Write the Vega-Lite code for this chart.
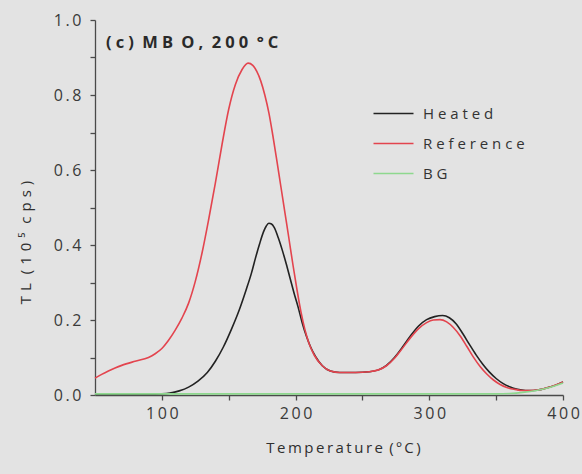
{
  "$schema": "https://vega.github.io/schema/vega-lite/v6.json",
  "width": 468,
  "height": 375,
  "autosize": {"type": "none"},
  "padding": {"left": 95, "top": 20, "right": 19, "bottom": 79},
  "background": "#e3e3e3",
  "config": {
    "view": {"stroke": null},
    "font": "Open Sans"
  },
  "title": {
    "text": "(\u2005c\u2005)\u2005 M\u2005B\u2005\u2005O\u2005,\u2005 2\u20050\u20050\u2005 °\u2005C",
    "anchor": "start",
    "frame": "group",
    "orient": "top",
    "fontSize": 16.5,
    "fontWeight": "bold",
    "color": "#2a2a2a",
    "offset": 0,
    "baseline": "alphabetic",
    "dx": 11,
    "dy": 52
  },
  "data": {
    "values": [
      {"T": 50, "v": 0.002, "s": "Heated"},
      {"T": 60, "v": 0.002, "s": "Heated"},
      {"T": 70, "v": 0.002, "s": "Heated"},
      {"T": 80, "v": 0.002, "s": "Heated"},
      {"T": 90, "v": 0.002, "s": "Heated"},
      {"T": 100, "v": 0.003, "s": "Heated"},
      {"T": 106, "v": 0.005, "s": "Heated"},
      {"T": 113, "v": 0.011, "s": "Heated"},
      {"T": 120, "v": 0.021, "s": "Heated"},
      {"T": 127, "v": 0.037, "s": "Heated"},
      {"T": 134, "v": 0.06, "s": "Heated"},
      {"T": 140, "v": 0.09, "s": "Heated"},
      {"T": 146, "v": 0.128, "s": "Heated"},
      {"T": 152, "v": 0.175, "s": "Heated"},
      {"T": 158, "v": 0.228, "s": "Heated"},
      {"T": 163, "v": 0.28, "s": "Heated"},
      {"T": 167, "v": 0.325, "s": "Heated"},
      {"T": 170, "v": 0.365, "s": "Heated"},
      {"T": 173, "v": 0.402, "s": "Heated"},
      {"T": 176, "v": 0.435, "s": "Heated"},
      {"T": 178, "v": 0.45, "s": "Heated"},
      {"T": 180, "v": 0.458, "s": "Heated"},
      {"T": 182, "v": 0.456, "s": "Heated"},
      {"T": 184, "v": 0.447, "s": "Heated"},
      {"T": 187, "v": 0.42, "s": "Heated"},
      {"T": 190, "v": 0.387, "s": "Heated"},
      {"T": 193, "v": 0.35, "s": "Heated"},
      {"T": 196, "v": 0.31, "s": "Heated"},
      {"T": 199, "v": 0.27, "s": "Heated"},
      {"T": 202, "v": 0.233, "s": "Heated"},
      {"T": 205, "v": 0.192, "s": "Heated"},
      {"T": 208, "v": 0.158, "s": "Heated"},
      {"T": 211, "v": 0.13, "s": "Heated"},
      {"T": 215, "v": 0.102, "s": "Heated"},
      {"T": 220, "v": 0.078, "s": "Heated"},
      {"T": 226, "v": 0.064, "s": "Heated"},
      {"T": 233, "v": 0.06, "s": "Heated"},
      {"T": 245, "v": 0.06, "s": "Heated"},
      {"T": 255, "v": 0.062, "s": "Heated"},
      {"T": 262, "v": 0.067, "s": "Heated"},
      {"T": 268, "v": 0.079, "s": "Heated"},
      {"T": 274, "v": 0.1, "s": "Heated"},
      {"T": 280, "v": 0.128, "s": "Heated"},
      {"T": 286, "v": 0.158, "s": "Heated"},
      {"T": 292, "v": 0.184, "s": "Heated"},
      {"T": 298, "v": 0.201, "s": "Heated"},
      {"T": 304, "v": 0.209, "s": "Heated"},
      {"T": 310, "v": 0.212, "s": "Heated"},
      {"T": 315, "v": 0.206, "s": "Heated"},
      {"T": 320, "v": 0.19, "s": "Heated"},
      {"T": 325, "v": 0.164, "s": "Heated"},
      {"T": 330, "v": 0.135, "s": "Heated"},
      {"T": 335, "v": 0.107, "s": "Heated"},
      {"T": 340, "v": 0.082, "s": "Heated"},
      {"T": 345, "v": 0.061, "s": "Heated"},
      {"T": 350, "v": 0.044, "s": "Heated"},
      {"T": 355, "v": 0.031, "s": "Heated"},
      {"T": 360, "v": 0.022, "s": "Heated"},
      {"T": 366, "v": 0.015, "s": "Heated"},
      {"T": 372, "v": 0.012, "s": "Heated"},
      {"T": 378, "v": 0.012, "s": "Heated"},
      {"T": 384, "v": 0.015, "s": "Heated"},
      {"T": 390, "v": 0.021, "s": "Heated"},
      {"T": 395, "v": 0.027, "s": "Heated"},
      {"T": 400, "v": 0.035, "s": "Heated"},

      {"T": 50, "v": 0.045, "s": "Reference"},
      {"T": 55, "v": 0.055, "s": "Reference"},
      {"T": 60, "v": 0.064, "s": "Reference"},
      {"T": 65, "v": 0.072, "s": "Reference"},
      {"T": 70, "v": 0.079, "s": "Reference"},
      {"T": 80, "v": 0.09, "s": "Reference"},
      {"T": 90, "v": 0.1, "s": "Reference"},
      {"T": 95, "v": 0.11, "s": "Reference"},
      {"T": 100, "v": 0.124, "s": "Reference"},
      {"T": 105, "v": 0.146, "s": "Reference"},
      {"T": 110, "v": 0.173, "s": "Reference"},
      {"T": 115, "v": 0.205, "s": "Reference"},
      {"T": 120, "v": 0.245, "s": "Reference"},
      {"T": 125, "v": 0.303, "s": "Reference"},
      {"T": 130, "v": 0.378, "s": "Reference"},
      {"T": 135, "v": 0.468, "s": "Reference"},
      {"T": 140, "v": 0.565, "s": "Reference"},
      {"T": 145, "v": 0.668, "s": "Reference"},
      {"T": 150, "v": 0.762, "s": "Reference"},
      {"T": 155, "v": 0.828, "s": "Reference"},
      {"T": 160, "v": 0.868, "s": "Reference"},
      {"T": 164.5, "v": 0.885, "s": "Reference"},
      {"T": 168, "v": 0.879, "s": "Reference"},
      {"T": 171, "v": 0.863, "s": "Reference"},
      {"T": 174, "v": 0.837, "s": "Reference"},
      {"T": 177, "v": 0.8, "s": "Reference"},
      {"T": 180, "v": 0.753, "s": "Reference"},
      {"T": 183, "v": 0.692, "s": "Reference"},
      {"T": 186, "v": 0.625, "s": "Reference"},
      {"T": 189, "v": 0.556, "s": "Reference"},
      {"T": 192, "v": 0.487, "s": "Reference"},
      {"T": 195, "v": 0.418, "s": "Reference"},
      {"T": 198, "v": 0.348, "s": "Reference"},
      {"T": 201, "v": 0.282, "s": "Reference"},
      {"T": 204, "v": 0.222, "s": "Reference"},
      {"T": 207, "v": 0.174, "s": "Reference"},
      {"T": 210, "v": 0.138, "s": "Reference"},
      {"T": 214, "v": 0.106, "s": "Reference"},
      {"T": 220, "v": 0.078, "s": "Reference"},
      {"T": 226, "v": 0.064, "s": "Reference"},
      {"T": 233, "v": 0.06, "s": "Reference"},
      {"T": 245, "v": 0.06, "s": "Reference"},
      {"T": 255, "v": 0.062, "s": "Reference"},
      {"T": 262, "v": 0.067, "s": "Reference"},
      {"T": 268, "v": 0.078, "s": "Reference"},
      {"T": 274, "v": 0.098, "s": "Reference"},
      {"T": 280, "v": 0.125, "s": "Reference"},
      {"T": 286, "v": 0.153, "s": "Reference"},
      {"T": 292, "v": 0.177, "s": "Reference"},
      {"T": 298, "v": 0.193, "s": "Reference"},
      {"T": 303, "v": 0.2, "s": "Reference"},
      {"T": 308, "v": 0.201, "s": "Reference"},
      {"T": 313, "v": 0.195, "s": "Reference"},
      {"T": 318, "v": 0.18, "s": "Reference"},
      {"T": 323, "v": 0.158, "s": "Reference"},
      {"T": 328, "v": 0.13, "s": "Reference"},
      {"T": 333, "v": 0.101, "s": "Reference"},
      {"T": 338, "v": 0.076, "s": "Reference"},
      {"T": 343, "v": 0.056, "s": "Reference"},
      {"T": 348, "v": 0.04, "s": "Reference"},
      {"T": 353, "v": 0.028, "s": "Reference"},
      {"T": 358, "v": 0.02, "s": "Reference"},
      {"T": 364, "v": 0.015, "s": "Reference"},
      {"T": 370, "v": 0.012, "s": "Reference"},
      {"T": 376, "v": 0.012, "s": "Reference"},
      {"T": 382, "v": 0.014, "s": "Reference"},
      {"T": 388, "v": 0.019, "s": "Reference"},
      {"T": 394, "v": 0.026, "s": "Reference"},
      {"T": 400, "v": 0.035, "s": "Reference"},

      {"T": 50, "v": 0.003, "s": "BG"},
      {"T": 100, "v": 0.003, "s": "BG"},
      {"T": 150, "v": 0.003, "s": "BG"},
      {"T": 200, "v": 0.003, "s": "BG"},
      {"T": 250, "v": 0.003, "s": "BG"},
      {"T": 300, "v": 0.003, "s": "BG"},
      {"T": 350, "v": 0.003, "s": "BG"},
      {"T": 360, "v": 0.004, "s": "BG"},
      {"T": 370, "v": 0.007, "s": "BG"},
      {"T": 380, "v": 0.012, "s": "BG"},
      {"T": 390, "v": 0.02, "s": "BG"},
      {"T": 400, "v": 0.032, "s": "BG"}
    ]
  },
  "mark": {"type": "line", "interpolate": "monotone"},
  "encoding": {
    "x": {
      "field": "T",
      "type": "quantitative",
      "scale": {"domain": [50, 400], "nice": false, "zero": false},
      "axis": {
        "values": [100, 150, 200, 250, 300, 350, 400],
        "labelExpr": "datum.value % 100 === 0 ? join(split(format(datum.value, 'd'), ''), '\u2009') : ''",
        "grid": false,
        "domainColor": "#4a4a4a",
        "domainWidth": 1.3,
        "tickColor": "#4a4a4a",
        "tickWidth": 1.3,
        "tickSize": 5,
        "labelFont": "Open Sans",
        "labelFontSize": 16,
        "labelColor": "#3a3a3a",
        "labelPadding": 5,
        "labelFlush": false,
        "title": "T\u2009e\u2009m\u2009p\u2009e\u2009r\u2009a\u2009t\u2009u\u2009r\u2009e\u2009 (\u2009º\u2009C\u2009)",
        "titleFont": "Open Sans",
        "titleFontSize": 15,
        "titleFontWeight": "normal",
        "titleColor": "#2f2f2f",
        "titleX": 248,
        "titleY": 52,
        "titleBaseline": "middle"
      }
    },
    "y": {
      "field": "v",
      "type": "quantitative",
      "scale": {"domain": [0, 1], "nice": false},
      "axis": {
        "values": [0, 0.1, 0.2, 0.3, 0.4, 0.5, 0.6, 0.7, 0.8, 0.9, 1.0],
        "labelExpr": "round(datum.value * 10) % 2 === 0 ? join(split(format(datum.value, '.1f'), ''), '\u2009') : ''",
        "grid": false,
        "domainColor": "#4a4a4a",
        "domainWidth": 1.3,
        "tickColor": "#4a4a4a",
        "tickWidth": 1.3,
        "tickSize": 5,
        "labelFont": "Open Sans",
        "labelFontSize": 16,
        "labelColor": "#3a3a3a",
        "labelPadding": 9,
        "labelFlush": false,
        "title": "T\u2009\u2009L\u2009\u2009 (\u2009\u20091\u2009\u20090\u2009\u2009⁵\u2009\u2009 c\u2009\u2009p\u2009\u2009s\u2009\u2009)",
        "titleFont": "Open Sans",
        "titleFontSize": 15,
        "titleFontWeight": "normal",
        "titleColor": "#2f2f2f",
        "titleX": -70,
        "titleY": 222,
        "titleBaseline": "middle",
        "titleAngle": -90
      }
    },
    "color": {
      "field": "s",
      "type": "nominal",
      "scale": {
        "domain": ["Heated", "Reference", "BG"],
        "range": ["#222222", "#e3444e", "#8ed88e"]
      },
      "legend": {
        "title": null,
        "orient": "none",
        "legendX": 277,
        "legendY": 86,
        "symbolType": "M-1,0H5.667",
        "symbolSize": 144,
        "symbolStrokeWidth": 1.6,
        "labelOffset": 36,
        "labelFont": "Open Sans",
        "labelFontSize": 15,
        "labelColor": "#333333",
        "labelExpr": "join(split(datum.label, ''), ' ')",
        "rowPadding": 14,
        "padding": 0
      }
    },
    "strokeWidth": {
      "field": "s",
      "type": "nominal",
      "scale": {"domain": ["Heated", "Reference", "BG"], "range": [1.6, 1.6, 2.2]},
      "legend": null
    }
  }
}
